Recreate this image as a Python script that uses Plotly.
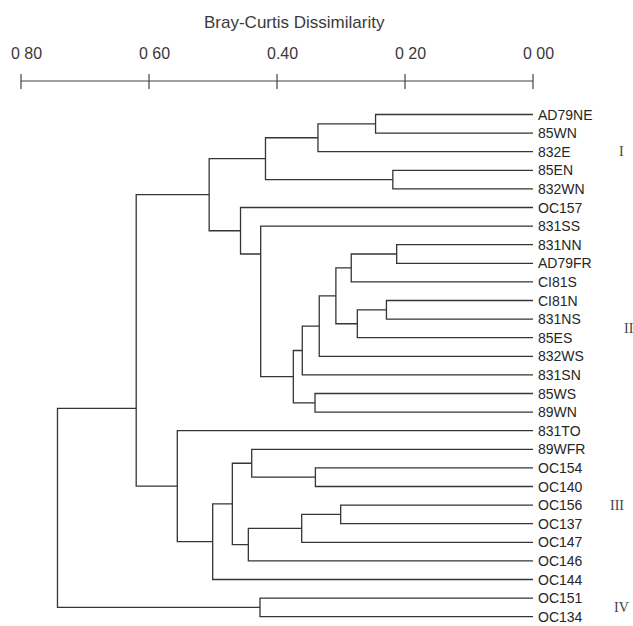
import plotly.graph_objects as go

# ---------------- data ----------------
leaves = ["AD79NE", "85WN", "832E", "85EN", "832WN", "OC157", "831SS", "831NN",
          "AD79FR", "CI81S", "CI81N", "831NS", "85ES", "832WS", "831SN", "85WS",
          "89WN", "831TO", "89WFR", "OC154", "OC140", "OC156", "OC137", "OC147",
          "OC146", "OC144", "OC151", "OC134"]

# linkage: node id = len(leaves) + row index
merge_a = [0, 28, 3, 29, 7, 32, 10, 34, 33, 36, 37, 15, 38, 6, 5, 31,
           19, 18, 21, 46, 47, 45, 49, 17, 43, 26, 52]
merge_b = [1, 2, 4, 30, 8, 9, 11, 12, 35, 13, 14, 16, 39, 40, 41, 42,
           20, 44, 22, 23, 24, 48, 25, 50, 51, 27, 53]
merge_h = [0.246, 0.336, 0.219, 0.418, 0.213, 0.284, 0.229, 0.2745, 0.308,
           0.334, 0.3605, 0.3406, 0.3745, 0.4255, 0.457, 0.506,
           0.340, 0.4395, 0.3005, 0.3614, 0.4448, 0.4698, 0.5005, 0.5558,
           0.620, 0.4266, 0.743]

ruler_ticks = [0.80, 0.60, 0.40, 0.20, 0.00]
ruler_labels = ["0 80", "0 60", "0.40", "0 20", "0 00"]
axis_title = "Bray-Curtis Dissimilarity"

group_names = ["I", "II", "III", "IV"]
group_first = [0, 7, 17, 26]
group_last = [4, 16, 25, 27]

# ---------------- layout constants (pixels) ----------------
W, H = 633, 626
PX_ZERO = 533.0       # x pixel of dissimilarity 0
PX_PER_UNIT = 640.0
ROW0_PX = 114.5       # y pixel of first leaf
ROW_PX = 18.6         # pixels per leaf row
# connection rows drawn off-centre in the original figure (node id -> row)
anchor_override = {41: 7.5, 52: 15.8}

def row_of_px(py):
    return (py - ROW0_PX) / ROW_PX

n = len(leaves)
ypos = {i: float(i) for i in range(n)}
hgt = {i: 0.0 for i in range(n)}
xs, ys = [], []
for k, (a, b, h) in enumerate(zip(merge_a, merge_b, merge_h)):
    node = n + k
    xs += [hgt[a], h, h, hgt[b], None]
    ys += [ypos[a], ypos[a], ypos[b], ypos[b], None]
    ypos[node] = anchor_override.get(node, (ypos[a] + ypos[b]) / 2.0)
    hgt[node] = h
# root stub not drawn (root has no parent)

fig = go.Figure()
line_col = "#353535"
fig.add_trace(go.Scatter(x=xs, y=ys, mode="lines",
                         line=dict(color=line_col, width=1.3),
                         hoverinfo="skip", showlegend=False))

# ruler
ruler_row = row_of_px(81)
rx = [max(ruler_ticks), min(ruler_ticks), None]
ry = [ruler_row, ruler_row, None]
for t in ruler_ticks:
    rx += [t, t, None]
    ry += [row_of_px(74), row_of_px(89), None]
fig.add_trace(go.Scatter(x=rx, y=ry, mode="lines",
                         line=dict(color="#444", width=1.2),
                         hoverinfo="skip", showlegend=False))

annotations = []
for t, lab in zip(ruler_ticks, ruler_labels):
    annotations.append(dict(x=t, y=row_of_px(53), xref="x", yref="y", text=lab,
                            showarrow=False, xanchor="center", yanchor="middle",
                            xshift=5,
                            font=dict(family="Liberation Sans", size=16, color="#3a3a3a")))

annotations.append(dict(x=294 / W, y=1 - 23 / H, xref="paper", yref="paper",
                        text=axis_title, showarrow=False, xanchor="center",
                        yanchor="middle",
                        font=dict(family="Liberation Sans", size=17, color="#3a3a3a")))

for i, name in enumerate(leaves):
    annotations.append(dict(x=0, y=i, xref="x", yref="y", text=name,
                            showarrow=False, xanchor="left", yanchor="middle",
                            xshift=3,
                            font=dict(family="Liberation Sans", size=14, color="#262626")))

group_x_px = [621, 629, 617, 621]
for g, f, l, gx in zip(group_names, group_first, group_last, group_x_px):
    annotations.append(dict(x=gx / W, y=(f + l) / 2.0, xref="paper", yref="y",
                            text=g, showarrow=False, xanchor="center",
                            yanchor="middle",
                            font=dict(family="Liberation Serif", size=14, color="#444")))

fig.update_layout(
    width=W, height=H, autosize=False,
    margin=dict(l=0, r=0, t=0, b=0, pad=0),
    paper_bgcolor="white", plot_bgcolor="white",
    xaxis=dict(range=[PX_ZERO / PX_PER_UNIT, (PX_ZERO - W) / PX_PER_UNIT],
               visible=False, showgrid=False, zeroline=False, fixedrange=True),
    yaxis=dict(range=[row_of_px(H), row_of_px(0)],
               visible=False, showgrid=False, zeroline=False, fixedrange=True),
    annotations=annotations,
    showlegend=False,
)

fig.write_html("out.html")
